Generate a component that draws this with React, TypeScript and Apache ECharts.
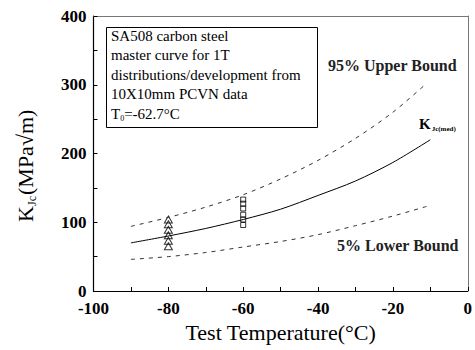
import React, { useEffect, useRef } from "react";
import * as echarts from "echarts";

const curveT = [-90, -80, -70, -60, -50, -40, -30, -20, -10];
const medianK = [70, 80, 91, 104, 119, 139, 160, 187, 220];
const boundT = [-90, -80, -70, -60, -50, -40, -30, -20, -11];
const upperK = [94, 107, 122, 140, 163, 190, 222, 260, 302];
const lowerK = [46, 50, 56, 64, 72, 82, 95, 109, 123];
const triT = -80;
const triK = [104, 97, 89, 81, 73, 65];
const sqT = -60;
const sqK = [133, 127, 120, 111, 104, 96];
const xTicks = [-100, 0, 20];
const yTicks = [0, 400, 100];
const boxLines = [
  "SA508 carbon steel",
  "master curve for 1T",
  "distributions/development from",
  "10X10mm PCVN data",
];

const serif = "Liberation Serif";

export default function App() {
  const ref = useRef<HTMLDivElement>(null);
  useEffect(() => {
    if (!ref.current) return;
    const chart = echarts.init(ref.current, null, { renderer: "svg" });
    const pair = (xs: number[], ys: number[]) => xs.map((x, i) => [x, ys[i]]);
    const dash = { color: "#333", width: 1, type: [4, 5] as any };
    const frameAxis = {
      type: "value",
      axisLine: { show: true, onZero: false, lineStyle: { color: "#777", width: 1 } },
      axisTick: { show: false },
      minorTick: { show: false },
      axisLabel: { show: false },
      splitLine: { show: false },
    };
    chart.setOption({
      animation: false,
      backgroundColor: "#fff",
      textStyle: { fontFamily: serif },
      grid: {
        left: 93.5,
        right: 6,
        top: 16,
        bottom: 59,
        show: false,
      },
      xAxis: [
        {
          type: "value",
          min: xTicks[0],
          max: xTicks[1],
          interval: xTicks[2],
          name: "Test Temperature(°C)",
          nameLocation: "middle",
          nameGap: 30,
          nameTextStyle: { color: "#000", fontFamily: serif, fontSize: 22 },
          axisLine: { onZero: false, lineStyle: { color: "#000", width: 1.2 } },
          axisTick: { inside: true, length: 4, lineStyle: { color: "#000" } },
          minorTick: { show: true, splitNumber: 2, length: 4, lineStyle: { color: "#000" } },
          splitLine: { show: false },
          axisLabel: {
            color: "#000",
            fontFamily: serif,
            fontSize: 17,
            fontWeight: "bold",
            margin: 9,
          },
        },
        { ...frameAxis, position: "top", min: xTicks[0], max: xTicks[1] },
      ],
      yAxis: [
        {
          type: "value",
          min: yTicks[0],
          max: yTicks[1],
          interval: yTicks[2],
          axisLine: { show: true, onZero: false, lineStyle: { color: "#000", width: 1.2 } },
          axisTick: { show: true, inside: true, length: 4, lineStyle: { color: "#000" } },
          minorTick: { show: true, splitNumber: 2, length: 4, lineStyle: { color: "#000" } },
          splitLine: { show: false },
          axisLabel: {
            color: "#000",
            fontFamily: serif,
            fontSize: 17,
            fontWeight: "bold",
            margin: 7,
            padding: [0, 0, 3, 0],
          },
        },
        { ...frameAxis, position: "right", min: yTicks[0], max: yTicks[1] },
      ],
      series: [
        {
          type: "line",
          data: pair(curveT, medianK),
          symbol: "none",
          smooth: 0.3,
          lineStyle: { color: "#000", width: 1 },
        },
        {
          type: "line",
          data: pair(boundT, upperK),
          symbol: "none",
          smooth: 0.3,
          lineStyle: dash,
        },
        {
          type: "line",
          data: pair(boundT, lowerK),
          symbol: "none",
          smooth: 0.3,
          lineStyle: dash,
        },
        {
          type: "scatter",
          data: triK.map((k) => [triT, k]),
          symbol: "triangle",
          symbolSize: [8, 7],
          itemStyle: { color: "rgba(255,255,255,0)", borderColor: "#000", borderWidth: 1 },
        },
        {
          type: "scatter",
          data: sqK.map((k) => [sqT, k]),
          symbol: "rect",
          symbolSize: 5,
          itemStyle: { color: "rgba(255,255,255,0)", borderColor: "#000", borderWidth: 1 },
        },
      ],
      graphic: [
        {
          type: "rect",
          shape: { x: 106.5, y: 27.5, width: 211, height: 100 },
          style: { fill: "#fff", stroke: "#000", lineWidth: 1 },
          z: 10,
        },
        ...boxLines.map((t, i) => ({
          type: "text",
          left: 111,
          top: 28 + i * 19.5,
          z: 11,
          style: { text: t, fill: "#000", fontFamily: serif, fontSize: 15 },
        })),
        {
          type: "text",
          left: 111,
          top: 106,
          z: 11,
          style: {
            text: "{a|T}{s|0}{a|=-62.7°C}",
            fill: "#000",
            rich: {
              a: { fontFamily: serif, fontSize: 15, fill: "#000" },
              s: { fontFamily: serif, fontSize: 8, fill: "#000", padding: [9, 0, 0, 0] },
            },
          },
        },
        {
          type: "text",
          left: 328,
          top: 57,
          style: {
            text: "95% Upper Bound",
            fill: "#222",
            fontFamily: serif,
            fontWeight: "bold",
            fontSize: 16,
          },
        },
        {
          type: "text",
          left: 337,
          top: 237,
          style: {
            text: "5% Lower Bound",
            fill: "#222",
            fontFamily: serif,
            fontWeight: "bold",
            fontSize: 16,
          },
        },
        {
          type: "text",
          left: 419,
          top: 116,
          style: {
            text: "{k|K}{s|Jc(med)}",
            rich: {
              k: { fontFamily: serif, fontSize: 15, fontWeight: "bold", fill: "#000" },
              s: { fontFamily: serif, fontSize: 7, fontWeight: "bold", fill: "#000", padding: [10, 0, 0, 1] },
            },
          },
        },
        {
          type: "group",
          x: 25,
          y: 222,
          rotation: Math.PI / 2,
          children: [
            {
              type: "text",
              x: 0,
              y: 0,
              style: { text: "K", fill: "#000", fontFamily: serif, fontSize: 22, verticalAlign: "middle" },
            },
            {
              type: "text",
              x: 16,
              y: 7,
              style: { text: "Jc", fill: "#000", fontFamily: serif, fontSize: 12, verticalAlign: "middle" },
            },
            {
              type: "text",
              x: 27,
              y: 0,
              style: { text: "(MPa√m)", fill: "#000", fontFamily: serif, fontSize: 22, verticalAlign: "middle" },
            },
          ],
        },
      ],
    });
    return () => chart.dispose();
  }, []);
  return (
    <div
      ref={ref}
      style={{ position: "fixed", left: 0, top: 0, width: 475, height: 350 }}
    />
  );
}
